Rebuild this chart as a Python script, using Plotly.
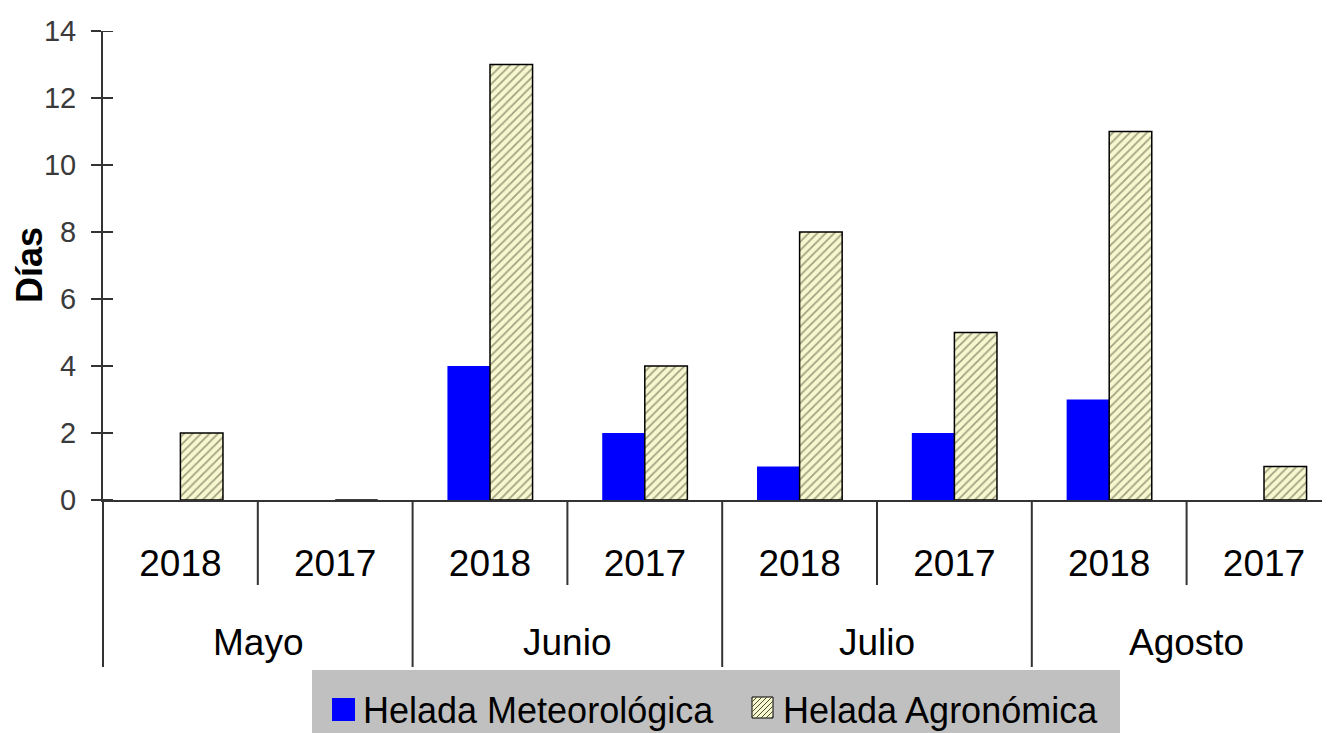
import plotly.graph_objects as go

# ---- data ----
months = ["Mayo", "Junio", "Julio", "Agosto"]
years = ["2018", "2017", "2018", "2017", "2018", "2017", "2018", "2017"]
meteorologica = [0, 0, 4, 2, 1, 2, 3, 0]
agronomica = [2, 0, 13, 4, 8, 5, 11, 1]
y_ticks = [0, 2, 4, 6, 8, 10, 12, 14]
series_names = ["Helada Meteorológica", "Helada Agronómica"]

# ---- layout geometry (page pixels; the page body has an 8px margin) ----
OFF = 8
W, H = 1330 - OFF, 733 - OFF
PAGE_L, PAGE_T, PAGE_B = 103, 31, 500       # plot area in page pixels
PL, PT = PAGE_L - OFF, PAGE_T - OFF
PW = W - PL
PH = PAGE_B - PAGE_T
PB = H - PT - PH
X0, X1 = -0.5, -0.5 + PW / 154.8

FONT = "Liberation Sans, Arial, sans-serif"
LINE = "#333333"
BLUE = "#0000ff"
CREAM = "#f7f7d0"
HATCH = "#4d4d33"


def px(xp):
    return (xp - PAGE_L) / PW


def py(yp):
    return (PAGE_B - yp) / PH


def dx(v):
    return (v - X0) / (X1 - X0)


xs = list(range(len(years)))

fig = go.Figure()
fig.add_trace(go.Bar(
    x=xs, y=meteorologica, name=series_names[0],
    marker=dict(color=BLUE, line=dict(width=0)),
    showlegend=False,
))
fig.add_trace(go.Bar(
    x=xs, y=agronomica, name=series_names[1],
    marker=dict(color=CREAM,
                pattern=dict(shape="/", fgcolor=HATCH, bgcolor=CREAM, size=6, solidity=0.3),
                line=dict(color="black", width=1.5)),
    showlegend=False,
))

shapes = []
# inside halves of the y ticks (ticks cross the axis)
for v in y_ticks:
    shapes.append(dict(type="line", xref="paper", yref="y", x0=0, x1=10 / PW, y0=v, y1=v,
                       line=dict(color=LINE, width=2)))
# year separators
for i in range(1, len(years)):
    if i % 2 == 1:
        shapes.append(dict(type="line", xref="paper", yref="paper",
                           x0=dx(i - 0.5), x1=dx(i - 0.5), y0=0, y1=py(585),
                           line=dict(color=LINE, width=2)))
# month separators (including left edge)
for i in range(0, len(years), 2):
    shapes.append(dict(type="line", xref="paper", yref="paper",
                       x0=dx(i - 0.5), x1=dx(i - 0.5), y0=0, y1=py(667),
                       line=dict(color=LINE, width=2)))

# custom legend
shapes.append(dict(type="rect", xref="paper", yref="paper", layer="above",
                   x0=px(312), x1=px(1120), y0=py(745), y1=py(670),
                   fillcolor="#c0c0c0", line=dict(width=0)))
shapes.append(dict(type="rect", xref="paper", yref="paper", layer="above",
                   x0=px(332), x1=px(355), y0=py(721), y1=py(698),
                   fillcolor=BLUE, line=dict(width=0)))
shapes.append(dict(type="rect", xref="paper", yref="paper", layer="above",
                   x0=px(752), x1=px(773), y0=py(718), y1=py(697),
                   fillcolor=CREAM, line=dict(color="black", width=1)))
# hatch lines inside legend square
hx0, hy0, hs = 752, 718, 21
path = ""
for k in range(-hs, hs, 5):
    a0 = max(0, k)
    a1 = min(hs, hs + k)
    if a1 - a0 < 1:
        continue
    xa, ya = hx0 + a0, hy0 - (a0 - k)
    xb, yb = hx0 + a1, hy0 - (a1 - k)
    path += f"M{px(xa)},{py(ya)} L{px(xb)},{py(yb)} "
shapes.append(dict(type="path", xref="paper", yref="paper", layer="above", path=path,
                   line=dict(color=HATCH, width=1)))

annotations = []
for j, m in enumerate(months):
    annotations.append(dict(text=m, xref="paper", yref="paper", x=dx(2 * j + 0.5), y=py(642),
                            xanchor="center", yanchor="middle", showarrow=False,
                            font=dict(family=FONT, size=37, color="black")))
annotations.append(dict(text=series_names[0], xref="paper", yref="paper", x=px(361), y=py(710),
                        xanchor="left", yanchor="middle", showarrow=False,
                        font=dict(family=FONT, size=36, color="black")))
annotations.append(dict(text=series_names[1], xref="paper", yref="paper", x=px(781), y=py(710),
                        xanchor="left", yanchor="middle", showarrow=False,
                        font=dict(family=FONT, size=36, color="black")))
# y-axis title
annotations.append(dict(text="<b>Días</b>", xref="paper", yref="paper", x=px(29), y=py(265),
                        xanchor="center", yanchor="middle", textangle=-90, showarrow=False,
                        font=dict(family=FONT, size=36, color="black")))

fig.update_layout(
    width=W, height=H,
    margin=dict(l=PL, r=0, t=PT, b=PB, pad=0, autoexpand=False),
    paper_bgcolor="white", plot_bgcolor="white",
    barmode="group", bargap=0.45, bargroupgap=0,
    showlegend=False,
    shapes=shapes, annotations=annotations,
    xaxis=dict(range=[X0, X1], tickmode="array", tickvals=xs, ticktext=years,
               ticks="", showgrid=False, zeroline=False,
               showline=True, linecolor=LINE, linewidth=2,
               tickfont=dict(family=FONT, size=37, color="black"),
               ticklabelstandoff=30),
    yaxis=dict(range=[0, 14], tickmode="array", tickvals=y_ticks,
               ticks="outside", ticklen=10, tickwidth=2, tickcolor=LINE,
               showgrid=False, zeroline=False,
               showline=True, linecolor=LINE, linewidth=2,
               tickfont=dict(family=FONT, size=29, color="#3a3a3a"),
               ticklabelstandoff=9),
)

fig.write_html("out.html")
